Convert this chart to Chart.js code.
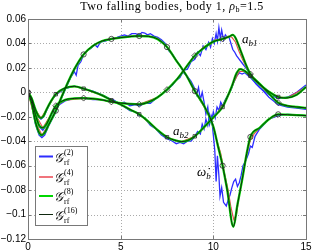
<!DOCTYPE html>
<html>
<head>
<meta charset="utf-8">
<script src="https://cdn.jsdelivr.net/npm/chart.js@4.4.0/dist/chart.umd.min.js"></script>
<style>
  html, body { margin: 0; padding: 0; background: #fff; }
</style>
</head>
<body>
<canvas id="c" width="314" height="251"></canvas>
<script>
// --- data ---

// omega-dot_b (circles)
const wX     = [0, 0.2, 0.4, 0.6, 0.75, 0.9, 1.1, 1.5, 2, 2.5, 3, 3.5, 4, 4.5, 5, 5.5, 6, 6.5, 7, 7.5, 8, 8.5, 9, 9.5, 10, 10.25, 10.5, 10.75, 11.08, 11.3, 11.55, 11.8, 12, 12.5, 13, 13.5, 14, 14.5, 15];
const wFine  = [0, -0.009, -0.024, -0.033, -0.035, -0.033, -0.027, -0.015, 0.003, 0.019, 0.031, 0.038, 0.042, 0.0437, 0.0448, 0.0456, 0.0461, 0.0458, 0.0435, 0.037, 0.026, 0.015, 0.001, -0.011, -0.028, -0.044, -0.060, -0.080, -0.110, -0.092, -0.072, -0.050, -0.0365, -0.029, -0.022, -0.018, -0.0183, -0.0187, -0.019];
const wRedX  = [0, 0.4, 0.75, 1.1, 1.5, 2, 2.5, 3, 3.5, 4, 4.5, 5, 5.5, 6, 6.5, 7, 7.5, 8, 8.5, 9, 9.5, 9.8, 10.0, 10.2, 10.4, 10.6, 10.8, 10.95, 11.1, 11.25, 11.4, 11.6, 11.8, 12.0, 12.2, 12.5, 13, 13.5, 14, 15];
const wRed   = [0, -0.024, -0.035, -0.027, -0.015, 0.003, 0.019, 0.031, 0.038, 0.042, 0.044, 0.045, 0.046, 0.0465, 0.046, 0.044, 0.037, 0.026, 0.015, 0.001, -0.012, -0.020, -0.028, -0.040, -0.050, -0.066, -0.080, -0.094, -0.104, -0.100, -0.084, -0.068, -0.051, -0.039, -0.034, -0.029, -0.022, -0.018, -0.0183, -0.019];
const wBlueX = [0, 0.2, 0.4, 0.6, 0.75, 0.9, 1.1, 1.5, 1.8, 2.0, 2.3, 2.5, 2.6, 2.7, 2.85, 3.0, 3.2, 3.4, 3.6, 3.75, 3.9, 4.2, 4.5, 4.8, 5.0, 5.2, 5.4, 5.6, 5.8, 6.0, 6.15, 6.3, 6.45, 6.6, 6.8, 7.0, 7.2, 7.4, 7.6, 7.8, 8.0, 8.2, 8.4, 8.6, 8.8, 9.0, 9.1, 9.2, 9.3, 9.4, 9.5, 9.6, 9.7, 9.8, 9.9, 10.0, 10.08, 10.15, 10.22, 10.3, 10.36, 10.45, 10.55, 10.7, 10.8, 10.9, 11.0, 11.1, 11.2, 11.3, 11.4, 11.5, 11.6, 11.75, 11.9, 12.0, 12.1, 12.25, 12.5, 13, 13.5, 14, 14.5, 15];
const wBlue  = [0, -0.010, -0.026, -0.035, -0.037, -0.035, -0.028, -0.016, -0.005, 0.002, 0.012, 0.017, 0.014, 0.022, 0.025, 0.031, 0.034, 0.036, 0.039, 0.037, 0.041, 0.042, 0.044, 0.045, 0.046, 0.047, 0.046, 0.048, 0.048, 0.047, 0.049, 0.0485, 0.047, 0.048, 0.046, 0.045, 0.043, 0.040, 0.034, 0.031, 0.026, 0.022, 0.016, 0.013, 0.009, 0.003, -0.002, 0.004, -0.006, 0.000, -0.008, -0.018, -0.012, -0.026, -0.020, -0.035, -0.048, -0.073, -0.052, -0.068, -0.085, -0.078, -0.090, -0.093, -0.088, -0.084, -0.078, -0.073, -0.071, -0.077, -0.074, -0.068, -0.060, -0.056, -0.050, -0.044, -0.045, -0.036, -0.030, -0.022, -0.019, -0.018, -0.0185, -0.019];

// a_b1 (diamonds)
const a1X     = [0, 0.2, 0.4, 0.6, 0.8, 1.0, 1.25, 1.5, 2, 2.5, 3, 3.5, 4, 4.5, 5, 5.5, 6, 6.5, 7, 7.5, 8, 8.5, 9, 9.5, 10, 10.5, 10.85, 11.05, 11.2, 11.45, 11.8, 12, 12.5, 13, 13.5, 14, 14.5, 15];
const a1Fine  = [0, -0.006, -0.018, -0.027, -0.029, -0.026, -0.018, -0.011, -0.0062, -0.005, -0.0047, -0.0052, -0.0062, -0.0078, -0.0088, -0.0095, -0.0098, -0.008, -0.004, 0.0022, 0.010, 0.020, 0.030, 0.0365, 0.0415, 0.0437, 0.0455, 0.047, 0.0445, 0.035, 0.0212, 0.015, 0.007, -0.001, -0.0085, -0.011, -0.012, -0.0128];
const a1RedX  = [0, 0.4, 0.8, 1.25, 1.5, 2, 3, 4, 4.5, 5, 6, 7, 7.5, 8, 8.5, 9, 9.5, 9.8, 10.1, 10.4, 10.6, 10.8, 11.0, 11.2, 11.4, 11.6, 11.8, 12.0, 12.5, 13, 13.5, 14, 15];
const a1Red   = [0, -0.018, -0.029, -0.018, -0.011, -0.0065, -0.005, -0.0062, -0.0078, -0.0088, -0.0098, -0.004, 0.0022, 0.010, 0.020, 0.030, 0.0375, 0.039, 0.043, 0.0425, 0.0445, 0.046, 0.045, 0.041, 0.033, 0.026, 0.020, 0.015, 0.006, -0.001, -0.0085, -0.011, -0.013];
const a1BlueX = [0, 0.2, 0.4, 0.6, 0.8, 1.0, 1.25, 1.5, 2.0, 2.5, 3.0, 3.5, 4.0, 4.3, 4.6, 4.9, 5.2, 5.5, 5.8, 6.0, 6.3, 6.6, 6.9, 7.2, 7.5, 7.8, 8.0, 8.2, 8.4, 8.6, 8.8, 9.0, 9.15, 9.3, 9.45, 9.6, 9.75, 9.85, 9.95, 10.05, 10.15, 10.22, 10.3, 10.38, 10.45, 10.55, 10.65, 10.75, 10.85, 10.95, 11.05, 11.15, 11.25, 11.4, 11.55, 11.7, 11.85, 12.0, 12.3, 12.7, 13.0, 13.5, 14.0, 14.5, 15.0];
const a1Blue  = [0, -0.007, -0.019, -0.028, -0.031, -0.027, -0.019, -0.012, -0.007, -0.005, -0.005, -0.006, -0.006, -0.007, -0.006, -0.009, -0.008, -0.011, -0.010, -0.011, -0.009, -0.009, -0.005, -0.002, 0.002, 0.006, 0.010, 0.012, 0.018, 0.019, 0.025, 0.027, 0.033, 0.030, 0.038, 0.035, 0.041, 0.037, 0.044, 0.040, 0.048, 0.042, 0.053, 0.044, 0.051, 0.043, 0.047, 0.045, 0.045, 0.040, 0.035, 0.033, 0.030, 0.027, 0.024, 0.021, 0.018, 0.0135, 0.007, 0.001, -0.004, -0.010, -0.012, -0.013, -0.014];

// a_b2 (squares)
const a2X     = [0, 0.2, 0.4, 0.55, 0.7, 0.85, 1.0, 1.25, 1.5, 2, 2.5, 3, 3.5, 4, 4.5, 5, 5.5, 6, 6.5, 7, 7.5, 8, 8.3, 8.6, 9, 9.5, 10, 10.5, 10.75, 11.0, 11.25, 11.45, 11.7, 12, 12.5, 13, 13.5, 13.9, 14.5, 15];
const a2Fine  = [0, -0.005, -0.014, -0.019, -0.021, -0.019, -0.014, -0.007, -0.0015, 0.0035, 0.0049, 0.003, 0.0005, -0.0025, -0.0065, -0.010, -0.014, -0.018, -0.024, -0.031, -0.0367, -0.0395, -0.0403, -0.0395, -0.036, -0.0285, -0.0205, -0.012, -0.004, 0.005, 0.0155, 0.019, 0.0175, 0.0135, 0.0065, 0.0005, -0.0038, -0.0046, -0.002, 0.0044];
const a2RedX  = [0, 0.4, 0.7, 1.0, 1.5, 2, 2.5, 3, 4, 4.5, 5, 6, 7, 7.5, 8, 8.3, 9, 9.5, 10, 10.5, 10.8, 11.1, 11.4, 11.7, 12, 12.5, 13, 13.5, 14, 15];
const a2Red   = [0, -0.014, -0.021, -0.014, -0.0015, 0.0035, 0.0049, 0.003, -0.0025, -0.0065, -0.010, -0.018, -0.031, -0.0367, -0.0395, -0.0403, -0.036, -0.029, -0.021, -0.011, -0.003, 0.008, 0.017, 0.017, 0.013, 0.0065, 0.0005, -0.0038, -0.0045, 0.0042];
const a2BlueX = [0, 0.2, 0.4, 0.55, 0.7, 0.85, 1.0, 1.25, 1.5, 2.0, 2.5, 3.0, 3.5, 4.0, 4.5, 5.0, 5.5, 5.8, 6.0, 6.3, 6.6, 6.9, 7.2, 7.5, 7.8, 8.0, 8.2, 8.4, 8.6, 8.8, 9.0, 9.15, 9.3, 9.4, 9.5, 9.6, 9.7, 9.8, 9.9, 10.0, 10.1, 10.2, 10.3, 10.4, 10.5, 10.65, 10.8, 10.95, 11.1, 11.25, 11.4, 11.55, 11.7, 11.85, 12.0, 12.5, 13.0, 13.5, 14.0, 14.5, 15.0];
const a2Blue  = [0, -0.006, -0.015, -0.020, -0.022, -0.020, -0.015, -0.007, -0.002, 0.003, 0.005, 0.003, 0.001, -0.002, -0.006, -0.010, -0.015, -0.016, -0.019, -0.021, -0.027, -0.030, -0.035, -0.038, -0.040, -0.042, -0.041, -0.042, -0.040, -0.040, -0.036, -0.032, -0.034, -0.026, -0.030, -0.022, -0.027, -0.018, -0.024, -0.016, -0.021, -0.012, -0.015, -0.008, -0.011, -0.006, -0.002, 0.002, 0.008, 0.013, 0.016, 0.015, 0.016, 0.014, 0.012, 0.004, -0.002, -0.005, -0.004, 0.000, 0.006];

// markers every 1.5 s on the finest solution
const markX  = [0, 1.5, 3, 4.5, 6, 7.5, 9, 10.5, 12, 13.5];
const wMark  = [0, -0.015, 0.031, 0.0437, 0.0461, 0.037, 0.001, -0.060, -0.0365, -0.018];
const a1Mark = [0, -0.011, -0.0047, -0.0078, -0.0098, 0.0022, 0.030, 0.0437, 0.015, -0.0085];
const a2Mark = [0, -0.0015, 0.003, -0.0065, -0.018, -0.0367, -0.036, -0.012, 0.0135, -0.0038];

const xTicks = [0, 5, 10, 15];
const yTicks = [-0.12, -0.1, -0.08, -0.06, -0.04, -0.02, 0, 0.02, 0.04, 0.06];
const legendSup = ['(2)', '(4)', '(8)', '(16)'];

// --- styles ---
const BLUE = 'rgb(45,45,255)';
const RED = 'rgb(235,70,80)';
const GREEN = 'rgb(0,215,0)';
const DARK = 'rgb(15,40,15)';

const pts = (xs, ys) => xs.map((x, i) => ({ x: x, y: ys[i] }));

function curve(xs, ys, color, width, order, smooth) {
    return {
        data: pts(xs, ys),
        borderColor: color,
        borderWidth: width,
        pointRadius: 0,
        fill: false,
        order: order,
        cubicInterpolationMode: smooth ? 'monotone' : 'default',
        tension: 0
    };
}

function marks(ys, style, r) {
    return {
        data: pts(markX, ys),
        showLine: false,
        pointStyle: style,
        pointRadius: r,
        pointBorderColor: 'rgb(40,40,40)',
        pointBorderWidth: 0.8,
        pointBackgroundColor: 'rgba(0,0,0,0)',
        order: 0
    };
}

const datasets = [
    marks(wMark, 'circle', 2.6),
    marks(a1Mark, 'rectRot', 3),
    marks(a2Mark, 'rect', 2.4),
    curve(wX, wFine, DARK, 1, 1, true),
    curve(a1X, a1Fine, DARK, 1, 1, true),
    curve(a2X, a2Fine, DARK, 1, 1, true),
    curve(wX, wFine, GREEN, 2.3, 2, true),
    curve(a1X, a1Fine, GREEN, 2.3, 2, true),
    curve(a2X, a2Fine, GREEN, 2.3, 2, true),
    curve(wRedX, wRed, RED, 1.1, 3, false),
    curve(a1RedX, a1Red, RED, 1.1, 3, false),
    curve(a2RedX, a2Red, RED, 1.1, 3, false),
    curve(wBlueX, wBlue, BLUE, 1.3, 4, false),
    curve(a1BlueX, a1Blue, BLUE, 1.3, 4, false),
    curve(a2BlueX, a2Blue, BLUE, 1.3, 4, false)
];

const fmt = v => {
    const r = Math.round(v * 100) / 100;
    return r === 0 ? '0' : String(r).replace('-', '\u2212');
};

// dotted grid, box and inward ticks like the original figure
const framePlugin = {
    id: 'frame',
    beforeDatasetsDraw(chart) {
        const { ctx, chartArea: a, scales } = chart;
        ctx.save();
        ctx.strokeStyle = 'rgb(170,170,170)';
        ctx.lineWidth = 1;
        ctx.setLineDash([1, 2]);
        xTicks.forEach(t => {
            if (t === 0 || t === 15) return;
            const px = Math.round(scales.x.getPixelForValue(t)) + 0.5;
            ctx.beginPath(); ctx.moveTo(px, a.top); ctx.lineTo(px, a.bottom); ctx.stroke();
        });
        yTicks.forEach(t => {
            if (t === -0.12 || t === 0.06) return;
            const py = Math.round(scales.y.getPixelForValue(t)) + 0.5;
            ctx.beginPath(); ctx.moveTo(a.left, py); ctx.lineTo(a.right, py); ctx.stroke();
        });
        ctx.restore();
    },
    afterDatasetsDraw(chart) {
        const { ctx, chartArea: a, scales } = chart;
        ctx.save();
        ctx.strokeStyle = 'rgb(120,120,120)';
        ctx.lineWidth = 1;
        ctx.strokeRect(Math.round(a.left) + 0.5, Math.round(a.top) + 0.5,
            Math.round(a.right - a.left), Math.round(a.bottom - a.top));
        ctx.beginPath();
        xTicks.forEach(t => {
            const px = Math.round(scales.x.getPixelForValue(t)) + 0.5;
            ctx.moveTo(px, a.bottom); ctx.lineTo(px, a.bottom - 3);
            ctx.moveTo(px, a.top); ctx.lineTo(px, a.top + 3);
        });
        yTicks.forEach(t => {
            const py = Math.round(scales.y.getPixelForValue(t)) + 0.5;
            ctx.moveTo(a.left, py); ctx.lineTo(a.left + 3, py);
            ctx.moveTo(a.right, py); ctx.lineTo(a.right - 3, py);
        });
        ctx.stroke();
        ctx.restore();
    }
};

// title, curve labels and legend drawn on top
const textPlugin = {
    id: 'texts',
    afterDraw(chart) {
        const { ctx, scales } = chart;
        ctx.save();
        ctx.fillStyle = '#000';
        ctx.textBaseline = 'alphabetic';

        // title
        ctx.letterSpacing = '0.5px';
        const t1 = 'Two falling bodies, body 1, ';
        const fMain = '12px "Liberation Serif"';
        const fIt = 'italic 12px "Liberation Serif"';
        const fSub = '8px "Liberation Serif"';
        ctx.font = fMain; const w1 = ctx.measureText(t1).width;
        ctx.font = fIt; const w2 = ctx.measureText('\u03C1').width;
        ctx.font = fSub; const w3 = ctx.measureText('b').width;
        ctx.font = fMain; const w4 = ctx.measureText('=1.5').width;
        let tx = 172 - (w1 + w2 + w3 + w4) / 2;
        const ty = 10;
        ctx.font = fMain; ctx.fillText(t1, tx, ty); tx += w1;
        ctx.font = fIt; ctx.fillText('\u03C1', tx, ty); tx += w2;
        ctx.font = fSub; ctx.fillText('b', tx, ty + 2); tx += w3;
        ctx.font = fMain; ctx.fillText('=1.5', tx, ty);
        ctx.letterSpacing = '0px';

        // curve labels at data positions
        const lab = (x, y, main, sub) => {
            const px = scales.x.getPixelForValue(x);
            const py = scales.y.getPixelForValue(y);
            ctx.font = 'italic 13px "Liberation Serif"';
            ctx.fillText(main, px, py);
            const mw = ctx.measureText(main).width;
            ctx.font = 'italic 9px "Liberation Serif"';
            ctx.fillText(sub, px + mw, py + 3);
        };
        lab(11.55, 0.0406, 'a', 'b1');
        lab(7.82, -0.0345, 'a', 'b2');
        lab(9.12, -0.0688, '\u03C9\u0307', 'b');

        // legend box
        const lx = 35, ly = 146, lw = 52, lh = 79;
        ctx.fillStyle = '#fff';
        ctx.fillRect(lx, ly, lw, lh);
        ctx.strokeStyle = 'rgb(120,120,120)';
        ctx.lineWidth = 1;
        ctx.strokeRect(lx + 0.5, ly + 0.5, lw, lh);
        const rows = [156.5, 177, 196, 214.5];
        const cols = [BLUE, RED, GREEN, DARK];
        const lws = [2, 1.5, 2, 1];
        rows.forEach((ry, i) => {
            ctx.strokeStyle = cols[i];
            ctx.lineWidth = lws[i];
            ctx.beginPath(); ctx.moveTo(39, ry); ctx.lineTo(53, ry); ctx.stroke();
            ctx.fillStyle = '#000';
            ctx.font = 'italic 13px "DejaVu Serif"';
            ctx.fillText('\uD835\uDCA2', 54, ry + 5);
            ctx.font = '8px "Liberation Serif"';
            ctx.fillText(legendSup[i], 64, ry - 2);
            ctx.fillText('rf', 64, ry + 8);
        });
        ctx.restore();
    }
};

new Chart(document.getElementById('c'), {
    type: 'line',
    data: { datasets: datasets },
    options: {
        responsive: false,
        animation: false,
        events: [],
        layout: { padding: { top: 19, right: 8, left: 0, bottom: 0 } },
        plugins: { legend: { display: false }, tooltip: { enabled: false }, title: { display: false } },
        scales: {
            x: {
                type: 'linear', min: 0, max: 15,
                afterBuildTicks: s => { s.ticks = xTicks.map(v => ({ value: v })); },
                afterFit: s => { s.height = 12; },
                grid: { display: false, drawTicks: false, tickLength: 0 },
                border: { display: false },
                ticks: { color: '#000', padding: 2, maxRotation: 0, font: { family: '"Liberation Sans"', size: 10 }, callback: v => String(v) }
            },
            y: {
                type: 'linear', min: -0.12, max: 0.06,
                afterBuildTicks: s => { s.ticks = yTicks.map(v => ({ value: v })); },
                afterFit: s => { s.width = 28; },
                grid: { display: false, drawTicks: false, tickLength: 0 },
                border: { display: false },
                ticks: { color: '#000', padding: 2, font: { family: '"Liberation Sans"', size: 10 }, callback: fmt }
            }
        }
    },
    plugins: [framePlugin, textPlugin]
});
</script>
</body>
</html>
